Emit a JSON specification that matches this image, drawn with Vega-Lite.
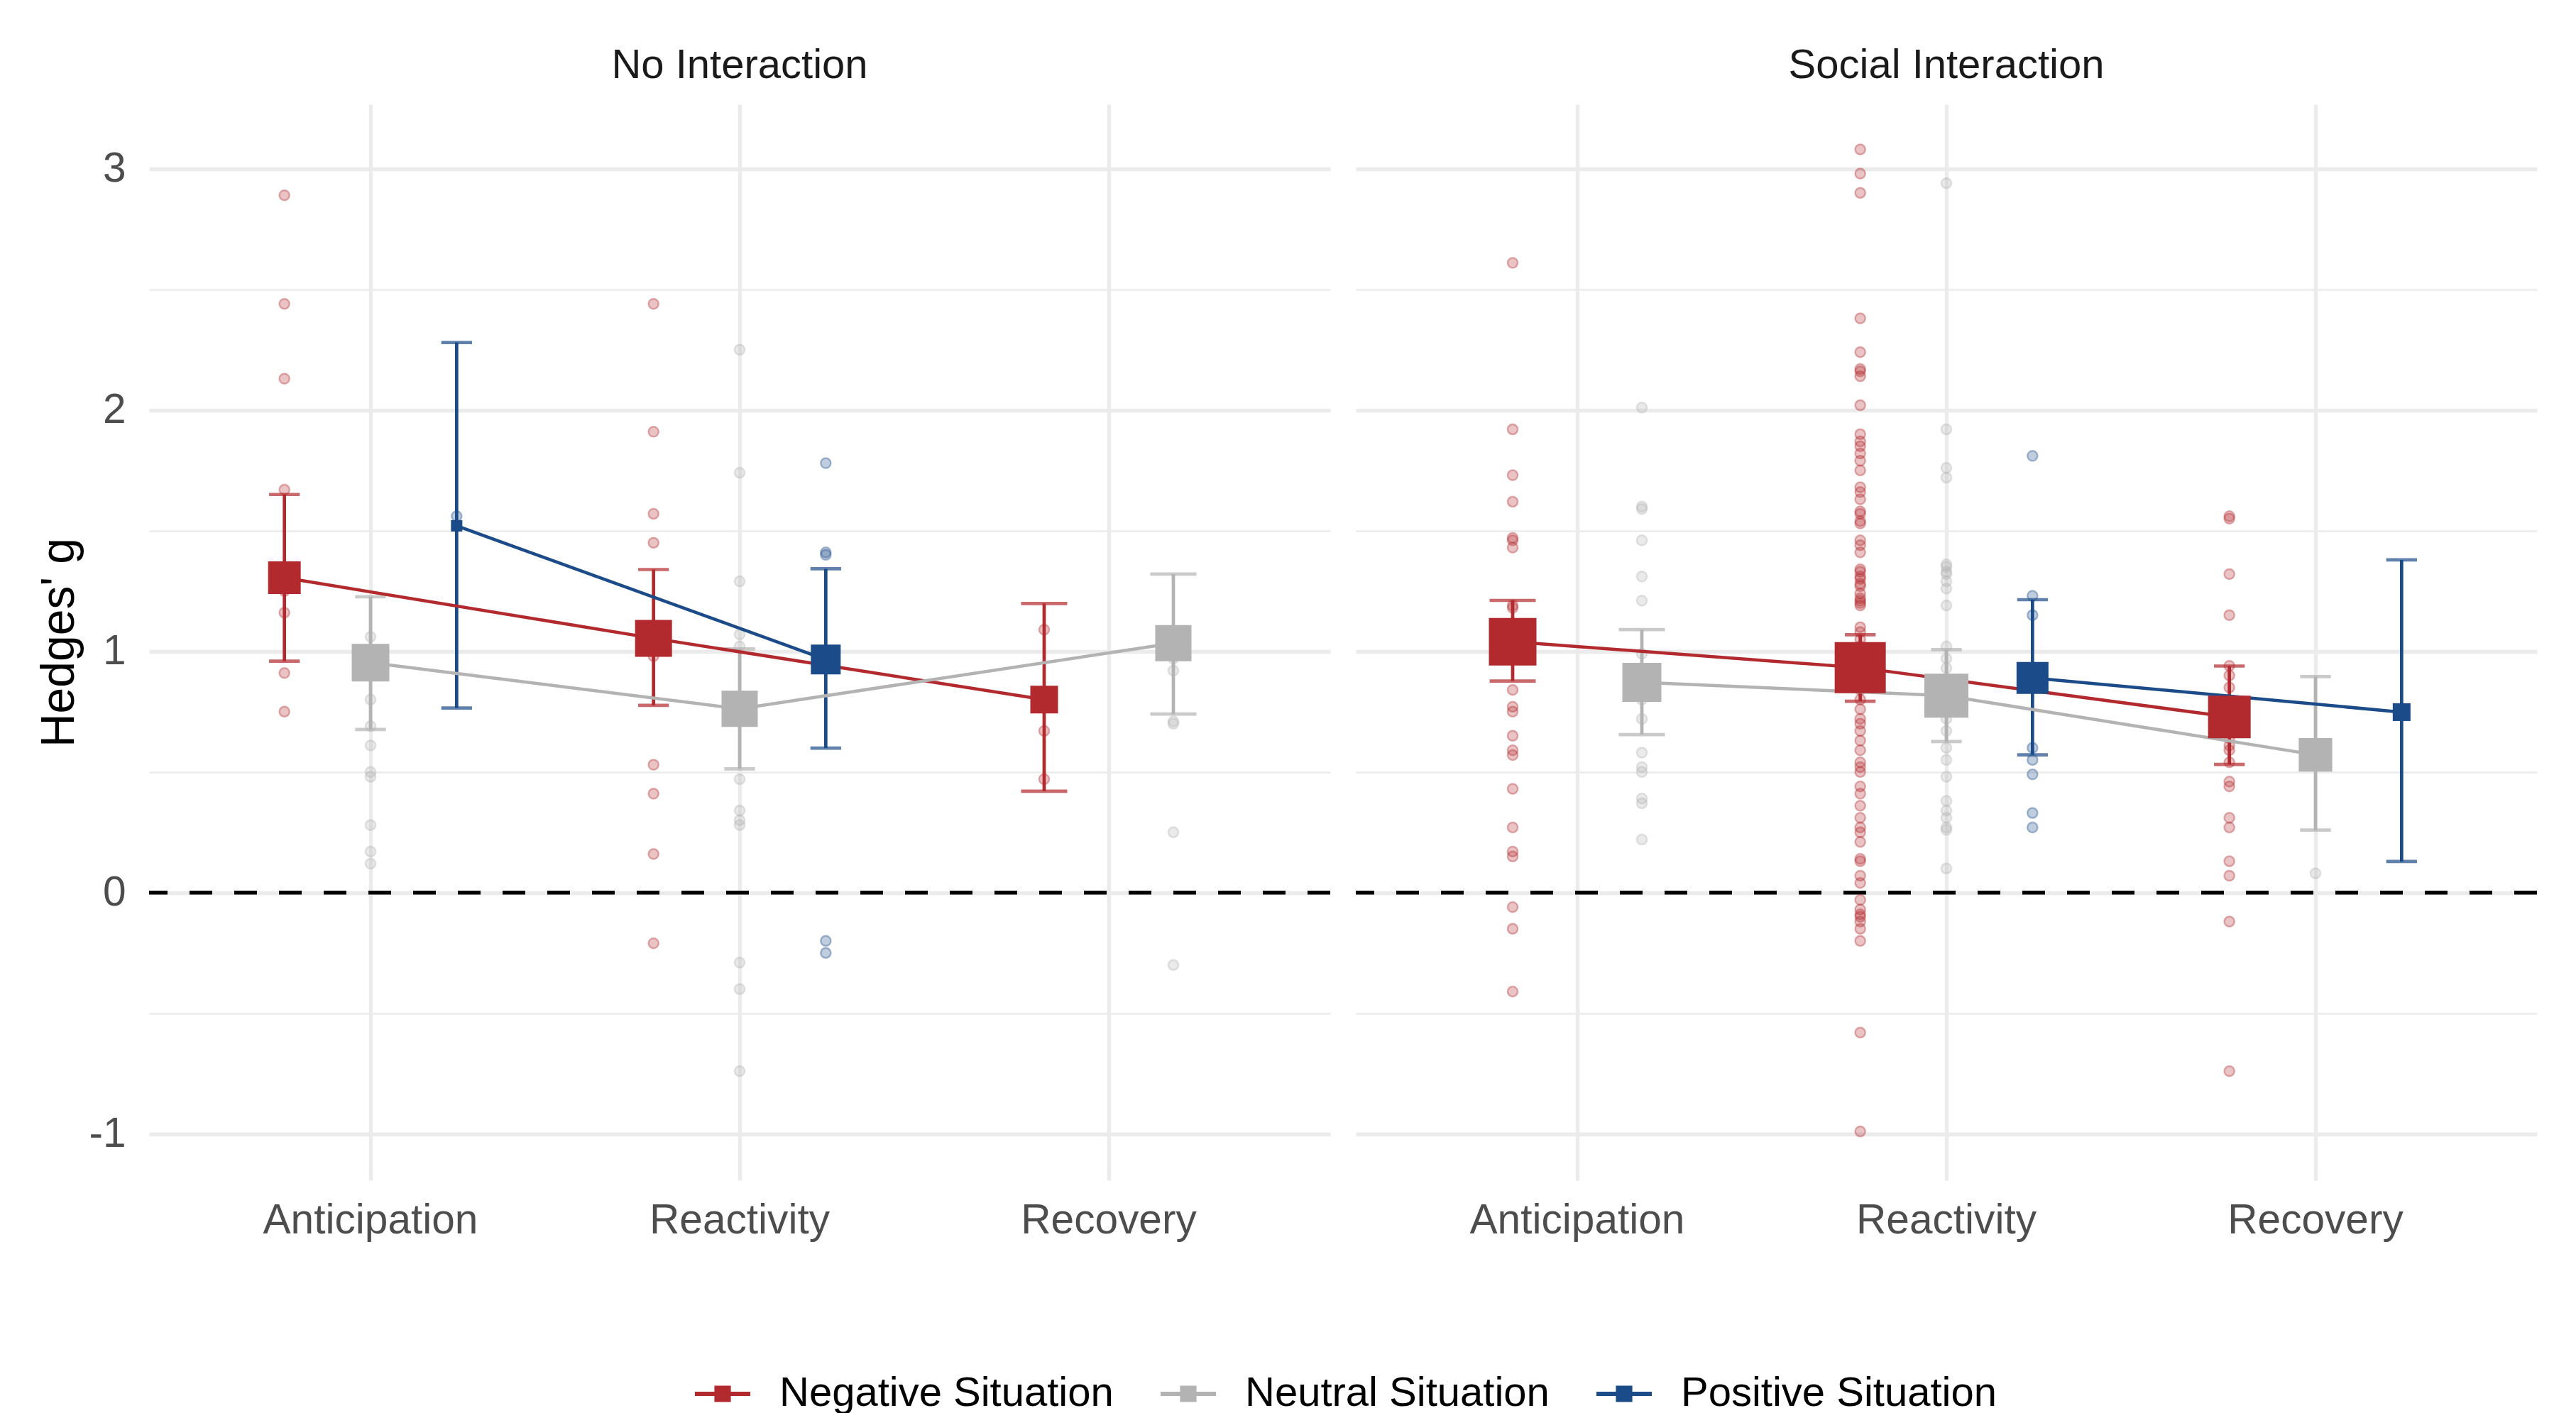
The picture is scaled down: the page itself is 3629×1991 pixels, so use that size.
{
  "$schema": "https://vega.github.io/schema/vega-lite/v6.json",
  "background": "white",
  "padding": {"left": 50, "top": 64, "right": 5, "bottom": 5},
  "data": {"values": [
    {"interaction":"No Interaction","phase":"Anticipation","situation":"Negative Situation","mean":1.305,"lo":0.959,"hi":1.65,"w":37.7},
    {"interaction":"No Interaction","phase":"Anticipation","situation":"Neutral Situation","mean":0.953,"lo":0.676,"hi":1.226,"w":51.8},
    {"interaction":"No Interaction","phase":"Anticipation","situation":"Positive Situation","mean":1.52,"lo":0.765,"hi":2.28,"w":0},
    {"interaction":"No Interaction","phase":"Reactivity","situation":"Negative Situation","mean":1.054,"lo":0.776,"hi":1.339,"w":49.7},
    {"interaction":"No Interaction","phase":"Reactivity","situation":"Neutral Situation","mean":0.762,"lo":0.513,"hi":1.01,"w":47.6},
    {"interaction":"No Interaction","phase":"Reactivity","situation":"Positive Situation","mean":0.966,"lo":0.599,"hi":1.342,"w":30.6},
    {"interaction":"No Interaction","phase":"Recovery","situation":"Negative Situation","mean":0.8,"lo":0.42,"hi":1.198,"w":25.7},
    {"interaction":"No Interaction","phase":"Recovery","situation":"Neutral Situation","mean":1.034,"lo":0.74,"hi":1.32,"w":47.6},
    {"interaction":"Social Interaction","phase":"Anticipation","situation":"Negative Situation","mean":1.04,"lo":0.877,"hi":1.211,"w":85.9},
    {"interaction":"Social Interaction","phase":"Anticipation","situation":"Neutral Situation","mean":0.871,"lo":0.655,"hi":1.09,"w":56.2},
    {"interaction":"Social Interaction","phase":"Reactivity","situation":"Negative Situation","mean":0.932,"lo":0.793,"hi":1.069,"w":100},
    {"interaction":"Social Interaction","phase":"Reactivity","situation":"Neutral Situation","mean":0.816,"lo":0.626,"hi":1.007,"w":72.8},
    {"interaction":"Social Interaction","phase":"Reactivity","situation":"Positive Situation","mean":0.89,"lo":0.571,"hi":1.214,"w":35.9},
    {"interaction":"Social Interaction","phase":"Recovery","situation":"Negative Situation","mean":0.728,"lo":0.531,"hi":0.939,"w":67.9},
    {"interaction":"Social Interaction","phase":"Recovery","situation":"Neutral Situation","mean":0.571,"lo":0.259,"hi":0.895,"w":40},
    {"interaction":"Social Interaction","phase":"Recovery","situation":"Positive Situation","mean":0.748,"lo":0.129,"hi":1.379,"w":7.5},

    {"interaction":"No Interaction","phase":"Anticipation","situation":"Negative Situation","g":2.89},
    {"interaction":"No Interaction","phase":"Anticipation","situation":"Negative Situation","g":2.44},
    {"interaction":"No Interaction","phase":"Anticipation","situation":"Negative Situation","g":2.13},
    {"interaction":"No Interaction","phase":"Anticipation","situation":"Negative Situation","g":1.67},
    {"interaction":"No Interaction","phase":"Anticipation","situation":"Negative Situation","g":1.25},
    {"interaction":"No Interaction","phase":"Anticipation","situation":"Negative Situation","g":1.16},
    {"interaction":"No Interaction","phase":"Anticipation","situation":"Negative Situation","g":0.91},
    {"interaction":"No Interaction","phase":"Anticipation","situation":"Negative Situation","g":0.75},
    {"interaction":"No Interaction","phase":"Anticipation","situation":"Neutral Situation","g":1.06},
    {"interaction":"No Interaction","phase":"Anticipation","situation":"Neutral Situation","g":0.8},
    {"interaction":"No Interaction","phase":"Anticipation","situation":"Neutral Situation","g":0.69},
    {"interaction":"No Interaction","phase":"Anticipation","situation":"Neutral Situation","g":0.61},
    {"interaction":"No Interaction","phase":"Anticipation","situation":"Neutral Situation","g":0.5},
    {"interaction":"No Interaction","phase":"Anticipation","situation":"Neutral Situation","g":0.48},
    {"interaction":"No Interaction","phase":"Anticipation","situation":"Neutral Situation","g":0.28},
    {"interaction":"No Interaction","phase":"Anticipation","situation":"Neutral Situation","g":0.17},
    {"interaction":"No Interaction","phase":"Anticipation","situation":"Neutral Situation","g":0.12},
    {"interaction":"No Interaction","phase":"Anticipation","situation":"Positive Situation","g":1.56},
    {"interaction":"No Interaction","phase":"Reactivity","situation":"Negative Situation","g":2.44},
    {"interaction":"No Interaction","phase":"Reactivity","situation":"Negative Situation","g":1.91},
    {"interaction":"No Interaction","phase":"Reactivity","situation":"Negative Situation","g":1.57},
    {"interaction":"No Interaction","phase":"Reactivity","situation":"Negative Situation","g":1.45},
    {"interaction":"No Interaction","phase":"Reactivity","situation":"Negative Situation","g":0.98},
    {"interaction":"No Interaction","phase":"Reactivity","situation":"Negative Situation","g":0.53},
    {"interaction":"No Interaction","phase":"Reactivity","situation":"Negative Situation","g":0.41},
    {"interaction":"No Interaction","phase":"Reactivity","situation":"Negative Situation","g":0.16},
    {"interaction":"No Interaction","phase":"Reactivity","situation":"Negative Situation","g":-0.21},
    {"interaction":"No Interaction","phase":"Reactivity","situation":"Neutral Situation","g":2.25},
    {"interaction":"No Interaction","phase":"Reactivity","situation":"Neutral Situation","g":1.74},
    {"interaction":"No Interaction","phase":"Reactivity","situation":"Neutral Situation","g":1.29},
    {"interaction":"No Interaction","phase":"Reactivity","situation":"Neutral Situation","g":1.07},
    {"interaction":"No Interaction","phase":"Reactivity","situation":"Neutral Situation","g":1.02},
    {"interaction":"No Interaction","phase":"Reactivity","situation":"Neutral Situation","g":0.47},
    {"interaction":"No Interaction","phase":"Reactivity","situation":"Neutral Situation","g":0.34},
    {"interaction":"No Interaction","phase":"Reactivity","situation":"Neutral Situation","g":0.3},
    {"interaction":"No Interaction","phase":"Reactivity","situation":"Neutral Situation","g":0.28},
    {"interaction":"No Interaction","phase":"Reactivity","situation":"Neutral Situation","g":-0.29},
    {"interaction":"No Interaction","phase":"Reactivity","situation":"Neutral Situation","g":-0.4},
    {"interaction":"No Interaction","phase":"Reactivity","situation":"Neutral Situation","g":-0.74},
    {"interaction":"No Interaction","phase":"Reactivity","situation":"Positive Situation","g":1.78},
    {"interaction":"No Interaction","phase":"Reactivity","situation":"Positive Situation","g":1.41},
    {"interaction":"No Interaction","phase":"Reactivity","situation":"Positive Situation","g":1.4},
    {"interaction":"No Interaction","phase":"Reactivity","situation":"Positive Situation","g":-0.2},
    {"interaction":"No Interaction","phase":"Reactivity","situation":"Positive Situation","g":-0.25},
    {"interaction":"No Interaction","phase":"Recovery","situation":"Negative Situation","g":1.09},
    {"interaction":"No Interaction","phase":"Recovery","situation":"Negative Situation","g":0.67},
    {"interaction":"No Interaction","phase":"Recovery","situation":"Negative Situation","g":0.47},
    {"interaction":"No Interaction","phase":"Recovery","situation":"Neutral Situation","g":0.97},
    {"interaction":"No Interaction","phase":"Recovery","situation":"Neutral Situation","g":0.92},
    {"interaction":"No Interaction","phase":"Recovery","situation":"Neutral Situation","g":0.71},
    {"interaction":"No Interaction","phase":"Recovery","situation":"Neutral Situation","g":0.7},
    {"interaction":"No Interaction","phase":"Recovery","situation":"Neutral Situation","g":0.25},
    {"interaction":"No Interaction","phase":"Recovery","situation":"Neutral Situation","g":-0.3},

    {"interaction":"Social Interaction","phase":"Anticipation","situation":"Negative Situation","g":2.61},
    {"interaction":"Social Interaction","phase":"Anticipation","situation":"Negative Situation","g":1.92},
    {"interaction":"Social Interaction","phase":"Anticipation","situation":"Negative Situation","g":1.73},
    {"interaction":"Social Interaction","phase":"Anticipation","situation":"Negative Situation","g":1.62},
    {"interaction":"Social Interaction","phase":"Anticipation","situation":"Negative Situation","g":1.47},
    {"interaction":"Social Interaction","phase":"Anticipation","situation":"Negative Situation","g":1.46},
    {"interaction":"Social Interaction","phase":"Anticipation","situation":"Negative Situation","g":1.43},
    {"interaction":"Social Interaction","phase":"Anticipation","situation":"Negative Situation","g":1.19},
    {"interaction":"Social Interaction","phase":"Anticipation","situation":"Negative Situation","g":1.18},
    {"interaction":"Social Interaction","phase":"Anticipation","situation":"Negative Situation","g":1.0},
    {"interaction":"Social Interaction","phase":"Anticipation","situation":"Negative Situation","g":0.84},
    {"interaction":"Social Interaction","phase":"Anticipation","situation":"Negative Situation","g":0.77},
    {"interaction":"Social Interaction","phase":"Anticipation","situation":"Negative Situation","g":0.75},
    {"interaction":"Social Interaction","phase":"Anticipation","situation":"Negative Situation","g":0.65},
    {"interaction":"Social Interaction","phase":"Anticipation","situation":"Negative Situation","g":0.59},
    {"interaction":"Social Interaction","phase":"Anticipation","situation":"Negative Situation","g":0.57},
    {"interaction":"Social Interaction","phase":"Anticipation","situation":"Negative Situation","g":0.43},
    {"interaction":"Social Interaction","phase":"Anticipation","situation":"Negative Situation","g":0.27},
    {"interaction":"Social Interaction","phase":"Anticipation","situation":"Negative Situation","g":0.17},
    {"interaction":"Social Interaction","phase":"Anticipation","situation":"Negative Situation","g":0.15},
    {"interaction":"Social Interaction","phase":"Anticipation","situation":"Negative Situation","g":-0.06},
    {"interaction":"Social Interaction","phase":"Anticipation","situation":"Negative Situation","g":-0.15},
    {"interaction":"Social Interaction","phase":"Anticipation","situation":"Negative Situation","g":-0.41},
    {"interaction":"Social Interaction","phase":"Anticipation","situation":"Neutral Situation","g":2.01},
    {"interaction":"Social Interaction","phase":"Anticipation","situation":"Neutral Situation","g":1.6},
    {"interaction":"Social Interaction","phase":"Anticipation","situation":"Neutral Situation","g":1.59},
    {"interaction":"Social Interaction","phase":"Anticipation","situation":"Neutral Situation","g":1.46},
    {"interaction":"Social Interaction","phase":"Anticipation","situation":"Neutral Situation","g":1.31},
    {"interaction":"Social Interaction","phase":"Anticipation","situation":"Neutral Situation","g":1.21},
    {"interaction":"Social Interaction","phase":"Anticipation","situation":"Neutral Situation","g":0.99},
    {"interaction":"Social Interaction","phase":"Anticipation","situation":"Neutral Situation","g":0.8},
    {"interaction":"Social Interaction","phase":"Anticipation","situation":"Neutral Situation","g":0.72},
    {"interaction":"Social Interaction","phase":"Anticipation","situation":"Neutral Situation","g":0.58},
    {"interaction":"Social Interaction","phase":"Anticipation","situation":"Neutral Situation","g":0.52},
    {"interaction":"Social Interaction","phase":"Anticipation","situation":"Neutral Situation","g":0.5},
    {"interaction":"Social Interaction","phase":"Anticipation","situation":"Neutral Situation","g":0.39},
    {"interaction":"Social Interaction","phase":"Anticipation","situation":"Neutral Situation","g":0.37},
    {"interaction":"Social Interaction","phase":"Anticipation","situation":"Neutral Situation","g":0.22},
    {"interaction":"Social Interaction","phase":"Reactivity","situation":"Negative Situation","g":3.08},
    {"interaction":"Social Interaction","phase":"Reactivity","situation":"Negative Situation","g":2.98},
    {"interaction":"Social Interaction","phase":"Reactivity","situation":"Negative Situation","g":2.9},
    {"interaction":"Social Interaction","phase":"Reactivity","situation":"Negative Situation","g":2.38},
    {"interaction":"Social Interaction","phase":"Reactivity","situation":"Negative Situation","g":2.24},
    {"interaction":"Social Interaction","phase":"Reactivity","situation":"Negative Situation","g":2.17},
    {"interaction":"Social Interaction","phase":"Reactivity","situation":"Negative Situation","g":2.16},
    {"interaction":"Social Interaction","phase":"Reactivity","situation":"Negative Situation","g":2.14},
    {"interaction":"Social Interaction","phase":"Reactivity","situation":"Negative Situation","g":2.02},
    {"interaction":"Social Interaction","phase":"Reactivity","situation":"Negative Situation","g":1.9},
    {"interaction":"Social Interaction","phase":"Reactivity","situation":"Negative Situation","g":1.87},
    {"interaction":"Social Interaction","phase":"Reactivity","situation":"Negative Situation","g":1.85},
    {"interaction":"Social Interaction","phase":"Reactivity","situation":"Negative Situation","g":1.82},
    {"interaction":"Social Interaction","phase":"Reactivity","situation":"Negative Situation","g":1.79},
    {"interaction":"Social Interaction","phase":"Reactivity","situation":"Negative Situation","g":1.75},
    {"interaction":"Social Interaction","phase":"Reactivity","situation":"Negative Situation","g":1.68},
    {"interaction":"Social Interaction","phase":"Reactivity","situation":"Negative Situation","g":1.66},
    {"interaction":"Social Interaction","phase":"Reactivity","situation":"Negative Situation","g":1.63},
    {"interaction":"Social Interaction","phase":"Reactivity","situation":"Negative Situation","g":1.58},
    {"interaction":"Social Interaction","phase":"Reactivity","situation":"Negative Situation","g":1.57},
    {"interaction":"Social Interaction","phase":"Reactivity","situation":"Negative Situation","g":1.54},
    {"interaction":"Social Interaction","phase":"Reactivity","situation":"Negative Situation","g":1.53},
    {"interaction":"Social Interaction","phase":"Reactivity","situation":"Negative Situation","g":1.46},
    {"interaction":"Social Interaction","phase":"Reactivity","situation":"Negative Situation","g":1.44},
    {"interaction":"Social Interaction","phase":"Reactivity","situation":"Negative Situation","g":1.41},
    {"interaction":"Social Interaction","phase":"Reactivity","situation":"Negative Situation","g":1.34},
    {"interaction":"Social Interaction","phase":"Reactivity","situation":"Negative Situation","g":1.33},
    {"interaction":"Social Interaction","phase":"Reactivity","situation":"Negative Situation","g":1.31},
    {"interaction":"Social Interaction","phase":"Reactivity","situation":"Negative Situation","g":1.3},
    {"interaction":"Social Interaction","phase":"Reactivity","situation":"Negative Situation","g":1.28},
    {"interaction":"Social Interaction","phase":"Reactivity","situation":"Negative Situation","g":1.27},
    {"interaction":"Social Interaction","phase":"Reactivity","situation":"Negative Situation","g":1.24},
    {"interaction":"Social Interaction","phase":"Reactivity","situation":"Negative Situation","g":1.22},
    {"interaction":"Social Interaction","phase":"Reactivity","situation":"Negative Situation","g":1.21},
    {"interaction":"Social Interaction","phase":"Reactivity","situation":"Negative Situation","g":1.2},
    {"interaction":"Social Interaction","phase":"Reactivity","situation":"Negative Situation","g":1.19},
    {"interaction":"Social Interaction","phase":"Reactivity","situation":"Negative Situation","g":1.1},
    {"interaction":"Social Interaction","phase":"Reactivity","situation":"Negative Situation","g":1.08},
    {"interaction":"Social Interaction","phase":"Reactivity","situation":"Negative Situation","g":1.05},
    {"interaction":"Social Interaction","phase":"Reactivity","situation":"Negative Situation","g":1.02},
    {"interaction":"Social Interaction","phase":"Reactivity","situation":"Negative Situation","g":1.0},
    {"interaction":"Social Interaction","phase":"Reactivity","situation":"Negative Situation","g":0.97},
    {"interaction":"Social Interaction","phase":"Reactivity","situation":"Negative Situation","g":0.94},
    {"interaction":"Social Interaction","phase":"Reactivity","situation":"Negative Situation","g":0.9},
    {"interaction":"Social Interaction","phase":"Reactivity","situation":"Negative Situation","g":0.87},
    {"interaction":"Social Interaction","phase":"Reactivity","situation":"Negative Situation","g":0.84},
    {"interaction":"Social Interaction","phase":"Reactivity","situation":"Negative Situation","g":0.8},
    {"interaction":"Social Interaction","phase":"Reactivity","situation":"Negative Situation","g":0.76},
    {"interaction":"Social Interaction","phase":"Reactivity","situation":"Negative Situation","g":0.72},
    {"interaction":"Social Interaction","phase":"Reactivity","situation":"Negative Situation","g":0.7},
    {"interaction":"Social Interaction","phase":"Reactivity","situation":"Negative Situation","g":0.67},
    {"interaction":"Social Interaction","phase":"Reactivity","situation":"Negative Situation","g":0.63},
    {"interaction":"Social Interaction","phase":"Reactivity","situation":"Negative Situation","g":0.59},
    {"interaction":"Social Interaction","phase":"Reactivity","situation":"Negative Situation","g":0.54},
    {"interaction":"Social Interaction","phase":"Reactivity","situation":"Negative Situation","g":0.52},
    {"interaction":"Social Interaction","phase":"Reactivity","situation":"Negative Situation","g":0.5},
    {"interaction":"Social Interaction","phase":"Reactivity","situation":"Negative Situation","g":0.44},
    {"interaction":"Social Interaction","phase":"Reactivity","situation":"Negative Situation","g":0.41},
    {"interaction":"Social Interaction","phase":"Reactivity","situation":"Negative Situation","g":0.36},
    {"interaction":"Social Interaction","phase":"Reactivity","situation":"Negative Situation","g":0.31},
    {"interaction":"Social Interaction","phase":"Reactivity","situation":"Negative Situation","g":0.27},
    {"interaction":"Social Interaction","phase":"Reactivity","situation":"Negative Situation","g":0.25},
    {"interaction":"Social Interaction","phase":"Reactivity","situation":"Negative Situation","g":0.21},
    {"interaction":"Social Interaction","phase":"Reactivity","situation":"Negative Situation","g":0.14},
    {"interaction":"Social Interaction","phase":"Reactivity","situation":"Negative Situation","g":0.13},
    {"interaction":"Social Interaction","phase":"Reactivity","situation":"Negative Situation","g":0.07},
    {"interaction":"Social Interaction","phase":"Reactivity","situation":"Negative Situation","g":0.04},
    {"interaction":"Social Interaction","phase":"Reactivity","situation":"Negative Situation","g":-0.03},
    {"interaction":"Social Interaction","phase":"Reactivity","situation":"Negative Situation","g":-0.07},
    {"interaction":"Social Interaction","phase":"Reactivity","situation":"Negative Situation","g":-0.09},
    {"interaction":"Social Interaction","phase":"Reactivity","situation":"Negative Situation","g":-0.1},
    {"interaction":"Social Interaction","phase":"Reactivity","situation":"Negative Situation","g":-0.12},
    {"interaction":"Social Interaction","phase":"Reactivity","situation":"Negative Situation","g":-0.15},
    {"interaction":"Social Interaction","phase":"Reactivity","situation":"Negative Situation","g":-0.2},
    {"interaction":"Social Interaction","phase":"Reactivity","situation":"Negative Situation","g":-0.58},
    {"interaction":"Social Interaction","phase":"Reactivity","situation":"Negative Situation","g":-0.99},
    {"interaction":"Social Interaction","phase":"Reactivity","situation":"Neutral Situation","g":2.94},
    {"interaction":"Social Interaction","phase":"Reactivity","situation":"Neutral Situation","g":1.92},
    {"interaction":"Social Interaction","phase":"Reactivity","situation":"Neutral Situation","g":1.76},
    {"interaction":"Social Interaction","phase":"Reactivity","situation":"Neutral Situation","g":1.72},
    {"interaction":"Social Interaction","phase":"Reactivity","situation":"Neutral Situation","g":1.36},
    {"interaction":"Social Interaction","phase":"Reactivity","situation":"Neutral Situation","g":1.35},
    {"interaction":"Social Interaction","phase":"Reactivity","situation":"Neutral Situation","g":1.33},
    {"interaction":"Social Interaction","phase":"Reactivity","situation":"Neutral Situation","g":1.32},
    {"interaction":"Social Interaction","phase":"Reactivity","situation":"Neutral Situation","g":1.29},
    {"interaction":"Social Interaction","phase":"Reactivity","situation":"Neutral Situation","g":1.26},
    {"interaction":"Social Interaction","phase":"Reactivity","situation":"Neutral Situation","g":1.19},
    {"interaction":"Social Interaction","phase":"Reactivity","situation":"Neutral Situation","g":1.02},
    {"interaction":"Social Interaction","phase":"Reactivity","situation":"Neutral Situation","g":0.97},
    {"interaction":"Social Interaction","phase":"Reactivity","situation":"Neutral Situation","g":0.93},
    {"interaction":"Social Interaction","phase":"Reactivity","situation":"Neutral Situation","g":0.88},
    {"interaction":"Social Interaction","phase":"Reactivity","situation":"Neutral Situation","g":0.84},
    {"interaction":"Social Interaction","phase":"Reactivity","situation":"Neutral Situation","g":0.77},
    {"interaction":"Social Interaction","phase":"Reactivity","situation":"Neutral Situation","g":0.72},
    {"interaction":"Social Interaction","phase":"Reactivity","situation":"Neutral Situation","g":0.67},
    {"interaction":"Social Interaction","phase":"Reactivity","situation":"Neutral Situation","g":0.6},
    {"interaction":"Social Interaction","phase":"Reactivity","situation":"Neutral Situation","g":0.55},
    {"interaction":"Social Interaction","phase":"Reactivity","situation":"Neutral Situation","g":0.48},
    {"interaction":"Social Interaction","phase":"Reactivity","situation":"Neutral Situation","g":0.38},
    {"interaction":"Social Interaction","phase":"Reactivity","situation":"Neutral Situation","g":0.34},
    {"interaction":"Social Interaction","phase":"Reactivity","situation":"Neutral Situation","g":0.31},
    {"interaction":"Social Interaction","phase":"Reactivity","situation":"Neutral Situation","g":0.27},
    {"interaction":"Social Interaction","phase":"Reactivity","situation":"Neutral Situation","g":0.26},
    {"interaction":"Social Interaction","phase":"Reactivity","situation":"Neutral Situation","g":0.1},
    {"interaction":"Social Interaction","phase":"Reactivity","situation":"Positive Situation","g":1.81},
    {"interaction":"Social Interaction","phase":"Reactivity","situation":"Positive Situation","g":1.23},
    {"interaction":"Social Interaction","phase":"Reactivity","situation":"Positive Situation","g":1.15},
    {"interaction":"Social Interaction","phase":"Reactivity","situation":"Positive Situation","g":0.6},
    {"interaction":"Social Interaction","phase":"Reactivity","situation":"Positive Situation","g":0.55},
    {"interaction":"Social Interaction","phase":"Reactivity","situation":"Positive Situation","g":0.49},
    {"interaction":"Social Interaction","phase":"Reactivity","situation":"Positive Situation","g":0.33},
    {"interaction":"Social Interaction","phase":"Reactivity","situation":"Positive Situation","g":0.27},
    {"interaction":"Social Interaction","phase":"Recovery","situation":"Negative Situation","g":1.56},
    {"interaction":"Social Interaction","phase":"Recovery","situation":"Negative Situation","g":1.55},
    {"interaction":"Social Interaction","phase":"Recovery","situation":"Negative Situation","g":1.32},
    {"interaction":"Social Interaction","phase":"Recovery","situation":"Negative Situation","g":1.15},
    {"interaction":"Social Interaction","phase":"Recovery","situation":"Negative Situation","g":0.94},
    {"interaction":"Social Interaction","phase":"Recovery","situation":"Negative Situation","g":0.9},
    {"interaction":"Social Interaction","phase":"Recovery","situation":"Negative Situation","g":0.85},
    {"interaction":"Social Interaction","phase":"Recovery","situation":"Negative Situation","g":0.64},
    {"interaction":"Social Interaction","phase":"Recovery","situation":"Negative Situation","g":0.61},
    {"interaction":"Social Interaction","phase":"Recovery","situation":"Negative Situation","g":0.59},
    {"interaction":"Social Interaction","phase":"Recovery","situation":"Negative Situation","g":0.54},
    {"interaction":"Social Interaction","phase":"Recovery","situation":"Negative Situation","g":0.46},
    {"interaction":"Social Interaction","phase":"Recovery","situation":"Negative Situation","g":0.44},
    {"interaction":"Social Interaction","phase":"Recovery","situation":"Negative Situation","g":0.31},
    {"interaction":"Social Interaction","phase":"Recovery","situation":"Negative Situation","g":0.27},
    {"interaction":"Social Interaction","phase":"Recovery","situation":"Negative Situation","g":0.13},
    {"interaction":"Social Interaction","phase":"Recovery","situation":"Negative Situation","g":0.07},
    {"interaction":"Social Interaction","phase":"Recovery","situation":"Negative Situation","g":-0.12},
    {"interaction":"Social Interaction","phase":"Recovery","situation":"Negative Situation","g":-0.74},
    {"interaction":"Social Interaction","phase":"Recovery","situation":"Neutral Situation","g":0.58},
    {"interaction":"Social Interaction","phase":"Recovery","situation":"Neutral Situation","g":0.08}
  ]},
  "transform": [
    {"joinaggregate": [{"op": "distinct", "field": "situation", "as": "nsit"}], "groupby": ["interaction", "phase"]},
    {"calculate": "indexof(['Negative Situation','Neutral Situation','Positive Situation'], datum.situation)", "as": "sidx"},
    {"calculate": "(datum.sidx - (datum.nsit - 1) / 2) * 0.7 / datum.nsit", "as": "dodge"}
  ],
  "facet": {
    "column": {
      "field": "interaction", "type": "nominal", "title": null,
      "sort": ["No Interaction", "Social Interaction"],
      "header": {"labelFontSize": 58, "labelColor": "#1A1A1A", "labelFont": "Liberation Sans", "labelPadding": 25}
    }
  },
  "spacing": 30,
  "spec": {
    "width": 1664,
    "height": 1516,
    "layer": [
      {
        "transform": [{"filter": "isValid(datum.mean) && datum.phase === 'Anticipation' && datum.situation === 'Negative Situation'"}],
        "mark": {"type": "rule", "color": "#000000", "strokeWidth": 5.3, "strokeDash": [32, 31]},
        "encoding": {
          "y": {
            "datum": 0, "type": "quantitative",
            "scale": {"domain": [-1.192, 3.267], "nice": false, "zero": false},
            "axis": {
              "title": "Hedges' g", "titleFontSize": 66, "titleColor": "#000000", "titleFont": "Liberation Sans", "titleFontWeight": "normal", "titlePadding": 7,
              "labelFontSize": 58.6, "labelColor": "#4D4D4D", "labelFont": "Liberation Sans", "labelPadding": 30,
              "ticks": false, "domain": false, "grid": true, "gridColor": "#EBEBEB",
              "gridWidth": {"condition": {"test": "datum.value % 1 === 0", "value": 5.3}, "value": 2.7},
              "values": [-1, -0.5, 0, 0.5, 1, 1.5, 2, 2.5, 3],
              "labelExpr": "datum.value % 1 === 0 ? toString(datum.value) : ''"
            }
          }
        }
      },
      {
        "transform": [{"filter": "isValid(datum.g)"}],
        "mark": {"type": "point", "shape": "circle", "filled": true, "size": 240, "opacity": 0.28, "strokeWidth": 0},
        "encoding": {
          "x": {"field": "phase", "type": "nominal", "sort": ["Anticipation", "Reactivity", "Recovery"],
                "scale": {"paddingInner": 0, "paddingOuter": 0.1},
                "axis": {"title": null, "labelFontSize": 58.6, "labelColor": "#4D4D4D", "labelFont": "Liberation Sans", "labelPadding": 28, "labelAngle": 0, "labelLimit": 0,
                         "ticks": false, "domain": false, "grid": true, "gridColor": "#EBEBEB", "gridWidth": 5.3, "bandPosition": 0.5}},
          "xOffset": {"field": "dodge", "type": "quantitative", "scale": {"domain": [-0.5, 0.5], "nice": false, "zero": false}},
          "y": {"field": "g", "type": "quantitative", "title": "Hedges' g", "scale": {"domain": [-1.192, 3.267], "nice": false, "zero": false}},
          "color": {"field": "situation", "type": "nominal",
                    "scale": {"domain": ["Negative Situation", "Neutral Situation", "Positive Situation"], "range": ["#B22A2E", "#B3B3B3", "#1B4B88"]}}
        }
      },
      {
        "transform": [{"filter": "isValid(datum.g)"}],
        "mark": {"type": "point", "shape": "circle", "filled": false, "size": 200, "opacity": 0.28, "strokeWidth": 2.6},
        "encoding": {
          "x": {"field": "phase", "type": "nominal", "sort": ["Anticipation", "Reactivity", "Recovery"], "scale": {"paddingInner": 0, "paddingOuter": 0.1}},
          "xOffset": {"field": "dodge", "type": "quantitative", "scale": {"domain": [-0.5, 0.5], "nice": false, "zero": false}},
          "y": {"field": "g", "type": "quantitative", "title": "Hedges' g", "scale": {"domain": [-1.192, 3.267], "nice": false, "zero": false}},
          "color": {"field": "situation", "type": "nominal"}
        }
      },
      {
        "transform": [{"filter": "isValid(datum.mean)"}],
        "mark": {"type": "rule", "strokeWidth": 4.7},
        "encoding": {
          "x": {"field": "phase", "type": "nominal", "sort": ["Anticipation", "Reactivity", "Recovery"], "scale": {"paddingInner": 0, "paddingOuter": 0.1}},
          "xOffset": {"field": "dodge", "type": "quantitative", "scale": {"domain": [-0.5, 0.5], "nice": false, "zero": false}},
          "y": {"field": "lo", "type": "quantitative", "title": "Hedges' g", "scale": {"domain": [-1.192, 3.267], "nice": false, "zero": false}},
          "y2": {"field": "hi"},
          "color": {"field": "situation", "type": "nominal"}
        }
      },
      {
        "transform": [{"filter": "isValid(datum.mean) && datum.nsit == 3"}, {"fold": ["lo", "hi"], "as": ["bound", "bval"]}],
        "mark": {"type": "tick", "thickness": 4.7, "size": 43.3, "orient": "horizontal"},
        "encoding": {
          "x": {"field": "phase", "type": "nominal", "sort": ["Anticipation", "Reactivity", "Recovery"], "scale": {"paddingInner": 0, "paddingOuter": 0.1}},
          "xOffset": {"field": "dodge", "type": "quantitative", "scale": {"domain": [-0.5, 0.5], "nice": false, "zero": false}},
          "y": {"field": "bval", "type": "quantitative", "title": "Hedges' g", "scale": {"domain": [-1.192, 3.267], "nice": false, "zero": false}},
          "color": {"field": "situation", "type": "nominal"}
        }
      },
      {
        "transform": [{"filter": "isValid(datum.mean) && datum.nsit == 2"}, {"fold": ["lo", "hi"], "as": ["bound", "bval"]}],
        "mark": {"type": "tick", "thickness": 4.7, "size": 65, "orient": "horizontal"},
        "encoding": {
          "x": {"field": "phase", "type": "nominal", "sort": ["Anticipation", "Reactivity", "Recovery"], "scale": {"paddingInner": 0, "paddingOuter": 0.1}},
          "xOffset": {"field": "dodge", "type": "quantitative", "scale": {"domain": [-0.5, 0.5], "nice": false, "zero": false}},
          "y": {"field": "bval", "type": "quantitative", "title": "Hedges' g", "scale": {"domain": [-1.192, 3.267], "nice": false, "zero": false}},
          "color": {"field": "situation", "type": "nominal"}
        }
      },
      {
        "transform": [{"filter": "isValid(datum.mean)"}],
        "mark": {"type": "line", "strokeWidth": 4.5},
        "encoding": {
          "x": {"field": "phase", "type": "nominal", "sort": ["Anticipation", "Reactivity", "Recovery"], "scale": {"paddingInner": 0, "paddingOuter": 0.1}},
          "xOffset": {"field": "dodge", "type": "quantitative", "scale": {"domain": [-0.5, 0.5], "nice": false, "zero": false}},
          "y": {"field": "mean", "type": "quantitative", "title": "Hedges' g", "scale": {"domain": [-1.192, 3.267], "nice": false, "zero": false}},
          "color": {
            "field": "situation", "type": "nominal",
            "scale": {"domain": ["Negative Situation", "Neutral Situation", "Positive Situation"], "range": ["#B22A2E", "#B3B3B3", "#1B4B88"]},
            "legend": {
              "orient": "none", "direction": "horizontal", "legendX": 766, "legendY": 1775,
              "title": null, "labelFontSize": 58, "labelColor": "#000000", "labelFont": "Liberation Sans", "labelLimit": 1000,
              "symbolType": "M-1,0H1M-0.22,-0.22H0.22V0.22H-0.22Z", "symbolSize": 6084, "symbolStrokeWidth": 6, "symbolOpacity": 1,
              "labelOffset": 38, "columnPadding": 54,
              "encode": {"symbols": {"update": {"fill": {"scale": "color", "field": "value"}, "stroke": {"scale": "color", "field": "value"}, "opacity": {"value": 1}}}}
            }
          }
        }
      },
      {
        "transform": [{"filter": "isValid(datum.mean)"}],
        "mark": {"type": "point", "shape": "square", "filled": true, "opacity": 1, "strokeWidth": 0},
        "encoding": {
          "x": {"field": "phase", "type": "nominal", "sort": ["Anticipation", "Reactivity", "Recovery"], "scale": {"paddingInner": 0, "paddingOuter": 0.1}},
          "xOffset": {"field": "dodge", "type": "quantitative", "scale": {"domain": [-0.5, 0.5], "nice": false, "zero": false}},
          "y": {"field": "mean", "type": "quantitative", "title": "Hedges' g", "scale": {"domain": [-1.192, 3.267], "nice": false, "zero": false}},
          "color": {"field": "situation", "type": "nominal"},
          "size": {"field": "w", "type": "quantitative", "legend": null, "scale": {"domain": [0, 100], "range": [256, 5184], "zero": false, "nice": false}}
        }
      }
    ]
  },
  "config": {
    "view": {"stroke": null},
    "font": "Liberation Sans"
  }
}
